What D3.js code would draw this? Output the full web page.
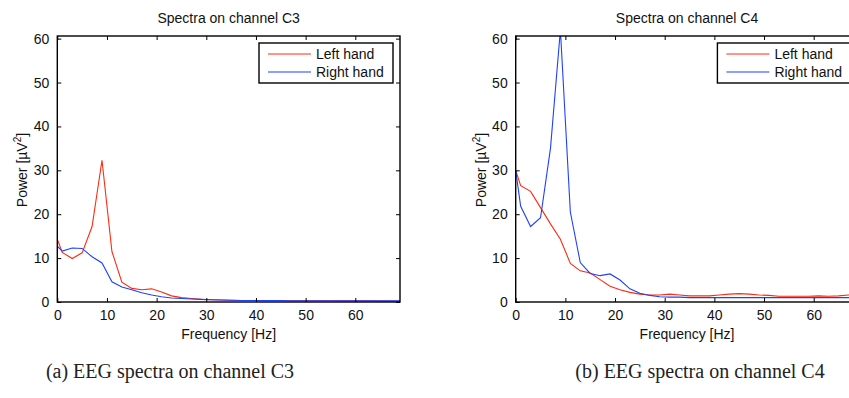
<!DOCTYPE html>
<html>
<head>
<meta charset="utf-8">
<script src="https://cdn.jsdelivr.net/npm/d3@7"></script>
<style>
  body { margin: 0; background: #fff; }
  svg { display: block; font-family: "Liberation Sans", Arial, sans-serif; }
</style>
</head>
<body>
<svg id="chart" width="849" height="398"></svg>
<script>
// frequencies at which the spectra were sampled
const freqs = [0, 1, 3, 5, 7, 9, 11, 13, 15, 17, 19, 21, 23, 25, 27, 29, 31, 33, 35, 37, 39,
  41, 43, 45, 47, 49, 51, 53, 55, 57, 59, 61, 63, 65, 67, 69];

// channel C3
const c3Left = [14.3, 11.3, 9.9, 11.2, 17.2, 32.3, 11.5, 4.5, 3.1, 2.8, 3.0, 2.3, 1.4, 1.0, 0.8, 0.6,
  0.5, 0.45, 0.4, 0.35, 0.35, 0.3, 0.3, 0.3, 0.3, 0.3, 0.3, 0.3, 0.3, 0.25, 0.25, 0.25, 0.25, 0.2, 0.2, 0.2];
const c3Right = [12.7, 11.6, 12.3, 12.2, 10.3, 8.9, 4.6, 3.4, 2.8, 2.1, 1.6, 1.2, 0.9, 0.8, 0.7, 0.6,
  0.5, 0.45, 0.4, 0.35, 0.35, 0.35, 0.35, 0.35, 0.3, 0.3, 0.3, 0.3, 0.3, 0.3, 0.3, 0.3, 0.3, 0.3, 0.3, 0.3];

// channel C4
const c4Left = [30.0, 26.5, 25.2, 21.5, 17.8, 14.3, 8.8, 7.1, 6.6, 5.1, 3.6, 2.8, 2.2, 1.8, 1.6, 1.6,
  1.8, 1.6, 1.4, 1.4, 1.4, 1.6, 1.8, 1.9, 1.8, 1.6, 1.5, 1.3, 1.3, 1.3, 1.3, 1.4, 1.3, 1.4, 1.6, 1.8];
const c4Right = [30.0, 21.8, 17.2, 19.2, 35.0, 62.0, 20.5, 9.0, 6.5, 6.0, 6.4, 5.0, 3.0, 2.0, 1.5, 1.2,
  1.1, 1.1, 1.0, 1.0, 1.0, 1.0, 1.0, 1.0, 1.0, 1.0, 1.0, 1.0, 1.0, 1.0, 1.0, 1.0, 1.0, 1.0, 1.0, 1.0];

const xTicks = [0, 10, 20, 30, 40, 50, 60];
const yTicks = [0, 10, 20, 30, 40, 50, 60];
const seriesNames = ['Left hand', 'Right hand'];
const seriesColours = ['#ff2a10', '#1f40ff'];

const sans = '"Liberation Sans", Arial, sans-serif';
const serif = '"Liberation Serif", "DejaVu Serif", serif';

const svg = d3.select('#chart');

function drawPanel(id, left, top, width, height, title, series, caption, captionX) {
  const x = d3.scaleLinear().domain([0, 69]).range([left, left + width]);
  const y = d3.scaleLinear().domain([0, 60.6]).range([top + height, top]);
  const g = svg.append('g');

  g.append('clipPath').attr('id', 'clip-' + id)
    .append('rect').attr('x', left).attr('y', top).attr('width', width).attr('height', height);

  // lines
  const line = d3.line().x((d, i) => x(freqs[i])).y(d => y(d));
  series.forEach((s, i) => {
    g.append('path')
      .datum(s)
      .attr('clip-path', `url(#clip-${id})`)
      .attr('fill', 'none')
      .attr('stroke', seriesColours[i])
      .attr('stroke-width', 1.1)
      .attr('d', line);
  });

  // matlab style box with inward ticks on all sides
  const tl = 4;
  g.append('g').attr('transform', `translate(0,${top + height})`)
    .call(d3.axisBottom(x).tickValues(xTicks).tickSize(-tl).tickPadding(8))
    .call(a => a.select('.domain').remove());
  g.append('g').attr('transform', `translate(0,${top})`)
    .call(d3.axisTop(x).tickValues(xTicks).tickSize(-tl).tickFormat(''))
    .call(a => a.select('.domain').remove());
  g.append('g').attr('transform', `translate(${left},0)`)
    .call(d3.axisLeft(y).tickValues(yTicks).tickSize(-tl).tickPadding(8))
    .call(a => a.select('.domain').remove());
  g.append('g').attr('transform', `translate(${left + width},0)`)
    .call(d3.axisRight(y).tickValues(yTicks).tickSize(-tl).tickFormat(''))
    .call(a => a.select('.domain').remove());
  g.selectAll('.tick line').attr('stroke', '#000');
  g.selectAll('.tick text').style('font-size', '14px').style('font-family', sans).attr('fill', '#111');

  g.append('rect')
    .attr('x', left).attr('y', top).attr('width', width).attr('height', height)
    .attr('fill', 'none').attr('stroke', '#000').attr('stroke-width', 1.4);

  // titles and labels
  g.append('text').attr('x', left + width / 2).attr('y', 23)
    .attr('text-anchor', 'middle').style('font-size', '14px').attr('fill', '#111').text(title);
  g.append('text').attr('x', left + width / 2).attr('y', 339)
    .attr('text-anchor', 'middle').style('font-size', '14px').attr('fill', '#111').text('Frequency [Hz]');
  const yl = g.append('text')
    .attr('transform', `translate(${left - 30},${top + height / 2 + 1}) rotate(-90)`)
    .attr('text-anchor', 'middle').style('font-size', '14px').attr('fill', '#111');
  yl.append('tspan').text('Power [\u00b5V');
  yl.append('tspan').style('font-size', '10px').attr('dy', -6).text('2');
  yl.append('tspan').attr('dy', 6).text(']');

  // legend
  const lx = left + width - 141, ly = top + 7;
  g.append('rect').attr('x', lx).attr('y', ly).attr('width', 134).attr('height', 40)
    .attr('fill', '#fff').attr('stroke', '#000').attr('stroke-width', 1.4);
  seriesNames.forEach((n, i) => {
    const rowY = ly + 11 + i * 18;
    g.append('line').attr('x1', lx + 9).attr('x2', lx + 52).attr('y1', rowY).attr('y2', rowY)
      .attr('stroke', seriesColours[i]).attr('stroke-width', 1.1);
    g.append('text').attr('x', lx + 57).attr('y', rowY + 5).style('font-size', '14px')
      .attr('fill', '#111').text(n);
  });

  // caption below the figure
  svg.append('text').attr('x', captionX).attr('y', 378)
    .attr('text-anchor', 'middle')
    .style('font-family', serif)
    .style('font-size', '20px').attr('fill', '#222').text(caption);
}

drawPanel('c3', 57.3, 36, 342.7, 266, 'Spectra on channel C3', [c3Left, c3Right],
  '(a) EEG spectra on channel C3', 170);
drawPanel('c4', 515.7, 36, 342.7, 266, 'Spectra on channel C4', [c4Left, c4Right],
  '(b) EEG spectra on channel C4', 700);
</script>
</body>
</html>
